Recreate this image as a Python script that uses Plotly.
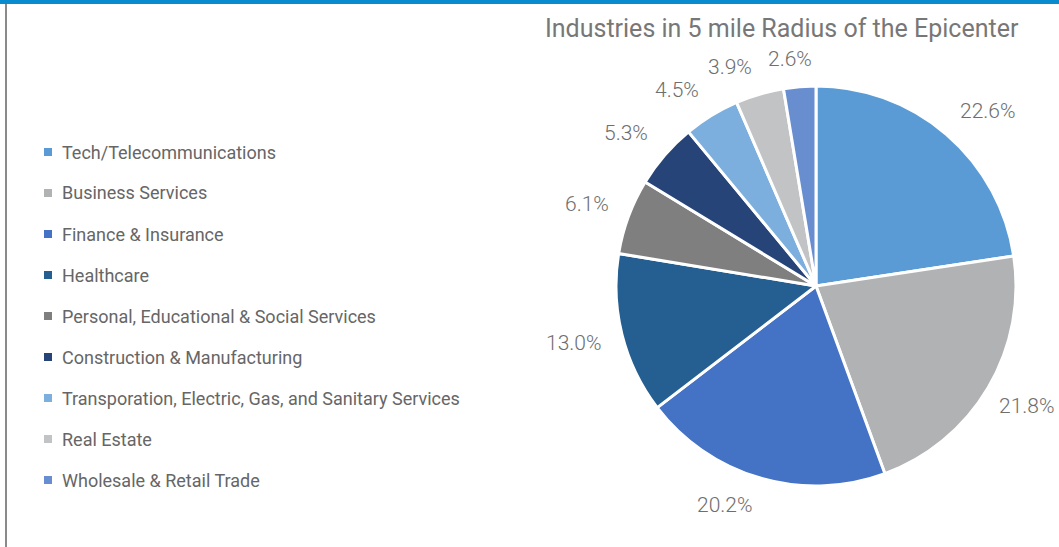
import math
import plotly.graph_objects as go

W, H = 1059, 547

industries = [
    "Tech/Telecommunications",
    "Business Services",
    "Finance & Insurance",
    "Healthcare",
    "Personal, Educational & Social Services",
    "Construction & Manufacturing",
    "Transporation, Electric, Gas, and Sanitary Services",
    "Real Estate",
    "Wholesale & Retail Trade",
]
shares = [22.6, 21.8, 20.2, 13.0, 6.1, 5.3, 4.5, 3.9, 2.6]
colors = ["#5B9BD5", "#B1B2B4", "#4472C4", "#255E91", "#7F7F7F",
          "#264478", "#7CAFDD", "#C2C3C5", "#698ED0"]
title_text = "Industries in 5 mile Radius of the Epicenter"

FONT = "Roboto"
LABEL_SIZE = 21

def px_x(x):
    return x / W

def px_y(y):
    return 1 - y / H

cx, cy, r = 816, 286, 200

fig = go.Figure(go.Pie(
    labels=industries,
    values=shares,
    sort=False,
    direction="clockwise",
    rotation=0,
    marker=dict(colors=colors, line=dict(color="white", width=3)),
    textinfo="none",
    showlegend=False,
    hoverinfo="label+value",
    domain=dict(x=[px_x(cx - r), px_x(cx + r)], y=[px_y(cy + r), px_y(cy - r)]),
))

shapes = [
    dict(type="rect", xref="paper", yref="paper", x0=0, x1=1, y0=px_y(4), y1=1,
         fillcolor="#0A8BCE", line=dict(width=0), layer="above"),
    dict(type="line", xref="paper", yref="paper", x0=px_x(6), x1=px_x(6), y0=0, y1=px_y(4),
         line=dict(color="#8A8A8A", width=2)),
]
annotations = [
    dict(text=title_text, xref="paper", yref="paper", x=px_x(782), y=px_y(28),
         xanchor="center", yanchor="middle", showarrow=False,
         font=dict(family=FONT, size=25, color="#777777")),
]

# Legend (manual, to match the wide item spacing)
for i, (name, col) in enumerate(zip(industries, colors)):
    yc = 152 + 41 * i
    shapes.append(dict(type="rect", xref="paper", yref="paper",
                       x0=px_x(44), x1=px_x(52), y0=px_y(yc + 4), y1=px_y(yc - 4),
                       fillcolor=col, line=dict(width=0)))
    annotations.append(dict(text=name, xref="paper", yref="paper", x=px_x(60), y=px_y(yc),
                            xanchor="left", yanchor="middle", showarrow=False,
                            font=dict(family=FONT, size=18, color="#666666")))

# Data labels placed outside the slices (Excel "outside end" style)
total = sum(shares)
cum = 0.0
gap = 18
for v in shares:
    mid = (cum + v / 2) / total * 2 * math.pi
    cum += v
    ux, uy = math.sin(mid), -math.cos(mid)
    txt = f"{v:.1f}%"
    hw = len(txt) * LABEL_SIZE * 0.27 + 2
    hh = 10
    px_, py_ = cx + (r + gap) * ux, cy + (r + gap) * uy
    ox = math.copysign(min(1.0, abs(ux) / 0.25), ux) * hw
    oy = max(-1.0, min(1.0, uy / 0.55)) * hh
    lx = min(px_ + ox, W - hw - 2)
    ly = py_ + oy
    annotations.append(dict(text=txt, xref="paper", yref="paper",
                            x=px_x(lx), y=px_y(ly),
                            xanchor="center", yanchor="middle", showarrow=False,
                            font=dict(family=FONT, size=LABEL_SIZE, color="#6E6E6E", weight=300)))

fig.update_layout(
    width=W, height=H,
    margin=dict(l=0, r=0, t=0, b=0),
    paper_bgcolor="white",
    plot_bgcolor="white",
    shapes=shapes,
    annotations=annotations,
)

fig.write_html("out.html")
